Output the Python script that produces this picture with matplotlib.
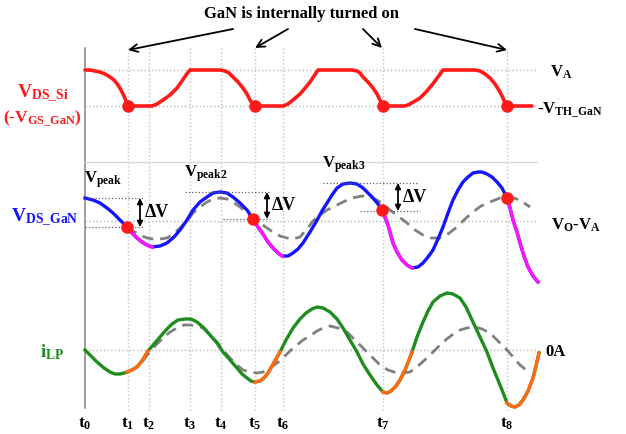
import matplotlib.pyplot as plt
import numpy as np

plt.rcParams['mathtext.fontset'] = 'custom'
plt.rcParams['mathtext.rm'] = 'Liberation Serif:bold'
plt.rcParams['mathtext.it'] = 'Liberation Serif:bold'
plt.rcParams['mathtext.bf'] = 'Liberation Serif:bold'
plt.rcParams['font.family'] = 'Liberation Serif'

# time instants (picture units, x to the right)
t_x = [85, 128, 149, 190, 221, 255, 283, 383, 507]
t_labels = [r'$\mathrm{t_0}$', r'$\mathrm{t_1}$', r'$\mathrm{t_2}$', r'$\mathrm{t_3}$',
            r'$\mathrm{t_4}$', r'$\mathrm{t_5}$', r'$\mathrm{t_6}$', r'$\mathrm{t_7}$',
            r'$\mathrm{t_8}$']

# levels (picture units, y downwards)
va_level = 70
vth_level = 106
vo_level = 221
zero_level = 350
x_end = 538

# V_DS_Si (-V_GS_GaN)
vsi_x = [85, 90, 95, 100, 105, 110, 114, 118, 121, 124, 126, 128, 152, 157, 163, 170, 177,
         182, 186, 190, 220, 225, 229, 233, 238, 243, 247, 250, 253, 255, 283, 288, 293, 300,
         306, 310, 314, 318, 352, 357, 360, 363, 368, 373, 377, 380, 382, 383, 405, 410, 415,
         420, 426, 432, 438, 443, 475, 480, 485, 490, 495, 500, 503, 505, 507, 532]
vsi_y = [70, 70, 71, 72, 74, 77, 80, 85, 90, 96, 101, 106, 106, 104, 100, 95, 88,
         81, 75, 70, 70, 71, 73, 77, 82, 88, 94, 100, 104, 106, 106, 104, 100, 94,
         87, 82, 76, 70, 70, 71, 73, 77, 82, 88, 94, 100, 104, 106, 106, 104, 101,
         98, 92, 85, 77, 70, 70, 71, 74, 78, 84, 92, 98, 103, 106, 106]
vsi_dot_x = [128, 255, 383, 507]

# V_DS_GaN
vds_x = [85, 93, 100, 107, 113, 120, 127, 132, 137, 142, 147, 152, 160, 167, 174, 180, 187,
         193, 200, 207, 213, 220, 227, 233, 240, 247, 253, 258, 263, 268, 273, 278, 282, 288,
         293, 298, 303, 310, 316, 322, 327, 332, 337, 343, 350, 357, 363, 368, 373, 378, 382,
         385, 388, 393, 397, 402, 407, 412, 418, 423, 428, 433, 438, 443, 448, 453, 458, 463,
         468, 473, 478, 482, 487, 492, 497, 502, 507, 510, 513, 517, 520, 524, 528, 533, 538]
vds_y = [198, 200, 203, 208, 213, 220, 227, 233, 238, 242, 245, 247, 246, 243, 237, 230, 220,
         210, 202, 197, 193, 192, 193, 197, 203, 210, 219, 227, 234, 242, 248, 253, 256, 256,
         253, 249, 243, 232, 222, 211, 203, 195, 188, 184, 183, 184, 188, 193, 198, 204, 210,
         217, 225, 243, 252, 260, 265, 268, 267, 263, 257, 250, 239, 227, 213, 200, 190, 182,
         177, 173, 172, 172, 174, 177, 182, 188, 198, 208, 220, 232, 243, 256, 267, 276, 282]
vds_pink = [(127, 152), (253, 282), (382, 412), (507, 538)]
vds_dot_x = [127, 253, 382, 507]
vds_dot_y = [227, 219, 210, 198]

vds_ref_x = [127, 133, 140, 147, 153, 160, 167, 173, 180, 187, 193, 200, 207, 213, 220, 227,
             233, 240, 247, 253, 260, 267, 273, 280, 287, 293, 300, 307, 313, 320, 327, 335,
             343, 352, 362, 370, 377, 383, 390, 398, 407, 415, 423, 431, 440, 448, 457, 465,
             473, 481, 490, 500, 510, 520, 530]
vds_ref_y = [227, 231, 235, 238, 239, 239, 238, 234, 228, 221, 213, 207, 202, 199, 198, 199,
             202, 207, 213, 218, 223, 228, 232, 236, 238, 239, 237, 229, 221, 215, 210, 206,
             202, 198, 196, 197, 200, 204, 210, 216, 223, 230, 235, 238, 238, 234, 227, 219,
             212, 206, 202, 198, 197, 200, 207]

# peak markers: (upper y, lower y, upper x range, lower x range, arrow x)
peak_names = [r'$\mathrm{V_{peak}}$', r'$\mathrm{V_{peak2}}$', r'$\mathrm{V_{peak3}}$']
peak_hi = [198, 192, 183]
peak_lo = [227, 219, 211]
peak_hi_x = [(85, 143), (185, 270), (323, 418)]
peak_lo_x = [(85, 143), (223, 270), (360, 420)]
peak_arrow_x = [140, 267, 398]

# i_LP
ilp_x = [85, 91, 97, 104, 110, 115, 120, 124, 127, 132, 137, 142, 148, 154, 160, 166, 172,
         178, 185, 191, 197, 204, 210, 217, 223, 230, 237, 242, 247, 251, 255, 260, 264, 268,
         272, 276, 280, 286, 293, 300, 306, 312, 317, 323, 330, 337, 343, 350, 357, 363, 370,
         377, 383, 387, 391, 396, 400, 405, 409, 412, 417, 423, 428, 433, 440, 447, 453, 460,
         466, 473, 480, 487, 493, 500, 504, 507, 511, 515, 519, 523, 528, 533, 536, 539]
ilp_y = [350, 356, 362, 368, 372, 374, 374, 373, 372, 370, 367, 361, 351, 344, 337, 330, 324,
         320, 319, 319, 322, 328, 335, 343, 352, 360, 368, 374, 378, 381, 382, 381, 378, 373,
         366, 359, 352, 340, 328, 319, 313, 309, 307, 308, 312, 319, 328, 340, 352, 364, 375,
         385, 392, 393, 391, 386, 380, 370, 360, 352, 337, 322, 311, 302, 296, 293, 294, 298,
         307, 322, 337, 352, 368, 385, 395, 403, 406, 407, 405, 400, 391, 378, 366, 353]
ilp_orange = [(127, 148), (255, 280), (383, 412), (507, 539)]

ilp_ref_x = [128, 135, 142, 148, 155, 163, 170, 177, 184, 190, 197, 203, 210, 217, 223, 230,
             237, 243, 250, 257, 263, 270, 277, 283, 290, 297, 303, 310, 317, 323, 330, 338,
             347, 355, 363, 372, 380, 388, 397, 404, 410, 418, 427, 435, 443, 452, 460, 467,
             475, 482, 490, 498, 507, 514, 520, 525, 530]
ilp_ref_y = [372, 368, 362, 354, 346, 338, 332, 328, 325, 325, 326, 328, 335, 342, 350, 358,
             365, 370, 372, 373, 372, 368, 363, 358, 351, 345, 340, 336, 331, 328, 326, 328,
             332, 340, 348, 357, 365, 370, 373, 373, 372, 366, 358, 350, 342, 335, 330, 328,
             327, 329, 333, 341, 350, 358, 365, 369, 373]

# "GaN is internally turned on" arrows: (text side, waveform side)
arrow_from = [(233, 29), (288, 29), (363, 29), (415, 29)]
arrow_to = [(128, 50), (255, 48), (382, 48), (507, 50)]

RED = '#ff1a1a'
BLUE = '#1414ff'
PINK = '#ff14ff'
GREEN = '#1e8c1e'
ORANGE = '#ff6a14'
GRID = '#c4c4c4'

fig = plt.figure(figsize=(6.26, 4.34), dpi=100)
ax = fig.add_axes([0, 0, 1, 1])
ax.set_xlim(0, 626)
ax.set_ylim(434, 0)
ax.axis('off')

# guides
for x in t_x[1:]:
    ax.plot([x, x], [48, 410], color=GRID, lw=1, ls=':')
ax.plot([85, 85], [48, 408], color='#8c8c8c', lw=1.2)
ax.plot([85, 537], [162, 162], color='#d8d8d8', lw=1)
for lev in [va_level, vth_level, vo_level, zero_level]:
    ax.plot([85, x_end], [lev, lev], color='#b4b4b4', lw=1, ls=':')

# top waveform
ax.plot(vsi_x, vsi_y, color=RED, lw=2.6, solid_capstyle='round', solid_joinstyle='round')
ax.plot(vsi_dot_x, [vth_level] * len(vsi_dot_x), 'o', color=RED, ms=8, zorder=5)

# middle waveform
vx = np.array(vds_x)
vy = np.array(vds_y)
ax.plot(vds_ref_x, vds_ref_y, color='#808080', lw=2, ls=(0, (4, 2.5)))
ax.plot(vx, vy, color=BLUE, lw=2.4, solid_joinstyle='round')
for a, b in vds_pink:
    m = (vx >= a) & (vx <= b)
    ax.plot(vx[m], vy[m], color=PINK, lw=2.4, solid_joinstyle='round')
ax.plot(vds_dot_x, vds_dot_y, 'o', color=RED, ms=8, zorder=5)

for hi, lo, hx, lx, axx in zip(peak_hi, peak_lo, peak_hi_x, peak_lo_x, peak_arrow_x):
    ax.plot(hx, [hi, hi], color='#606060', lw=0.9, ls=':')
    ax.plot(lx, [lo, lo], color='#606060', lw=0.9, ls=':')
    ax.annotate('', xy=(axx, hi), xytext=(axx, lo),
                arrowprops=dict(arrowstyle='<|-|>', color='black', lw=1.3,
                                mutation_scale=8, shrinkA=0, shrinkB=0))
    ax.text(axx + 5, (hi + lo) / 2, 'ΔV', fontsize=13, fontweight='bold',
            ha='left', va='center')
for name, hx, hi in zip(peak_names, peak_hi_x, peak_hi):
    ax.text(hx[0] - 1, hi - 8, name, fontsize=12, ha='left', va='bottom')

# bottom waveform
ix = np.array(ilp_x)
iy = np.array(ilp_y)
ax.plot(ilp_ref_x, ilp_ref_y, color='#808080', lw=2, ls=(0, (4, 2.5)))
ax.plot(ix, iy, color=GREEN, lw=2.4, solid_joinstyle='round')
for a, b in ilp_orange:
    m = (ix >= a) & (ix <= b)
    ax.plot(ix[m], iy[m], color=ORANGE, lw=2.4, solid_joinstyle='round')

# labels
ax.text(43, 94, r'$\mathrm{V_{DS\_Si}}$', color=RED, fontsize=14, ha='center', va='center')
ax.text(42, 119, r'$\mathrm{(\text{-}V_{GS\_GaN})}$', color=RED, fontsize=12.5,
        ha='center', va='center')
ax.text(45, 218, r'$\mathrm{V_{DS\_GaN}}$', color=BLUE, fontsize=14, ha='center', va='center')
ax.text(52, 352, r'$\mathrm{i_{LP}}$', color=GREEN, fontsize=14, ha='center', va='center')
ax.text(550, va_level + 2, r'$\mathrm{V_A}$', fontsize=12, ha='left', va='center')
ax.text(537, vth_level + 4, r'$\mathrm{\text{-}V_{TH\_GaN}}$', fontsize=12,
        ha='left', va='center')
ax.text(551, vo_level + 4, r'$\mathrm{V_O\text{-}V_A}$', fontsize=12, ha='left', va='center')
ax.text(545, zero_level + 2, '0A', fontsize=12, fontweight='bold', ha='left', va='center')
for x, lab in zip(t_x, t_labels):
    ax.text(x, 424, lab, fontsize=12.5, ha='center', va='center')

ax.text(302, 14, 'GaN is internally turned on', fontsize=12, fontweight='bold',
        ha='center', va='center')
for s, e in zip(arrow_from, arrow_to):
    ax.annotate('', xy=e, xytext=s,
                arrowprops=dict(arrowstyle='->', color='black', lw=1.3,
                                mutation_scale=14, shrinkA=0, shrinkB=0))

fig.savefig('out.png', dpi=100)
